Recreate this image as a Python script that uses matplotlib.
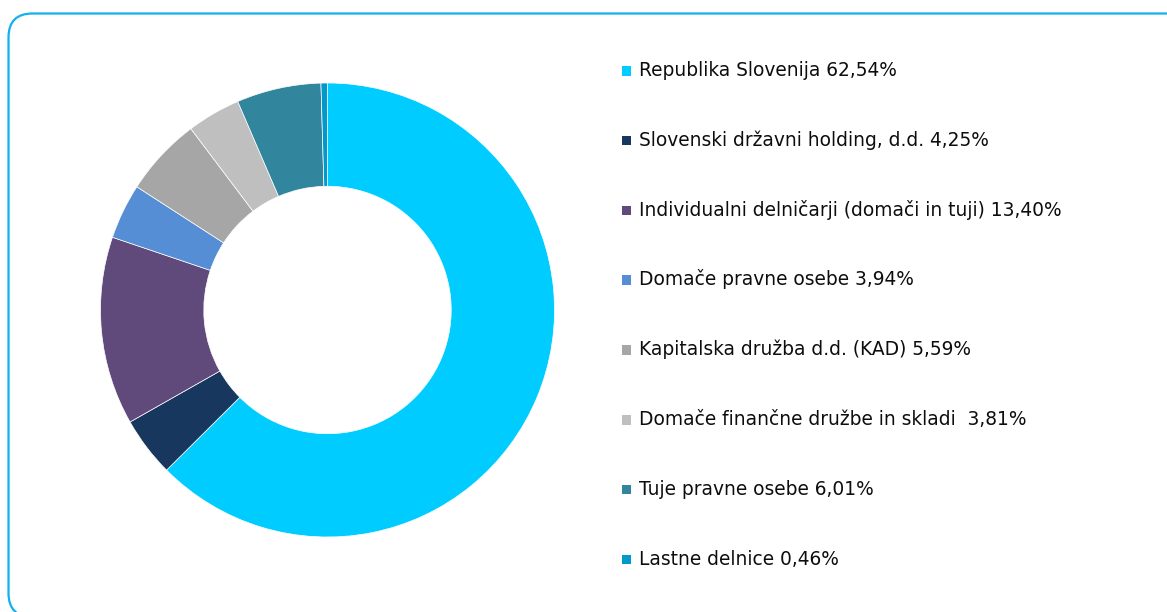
import matplotlib
matplotlib.use("Agg")
import matplotlib.pyplot as plt
from matplotlib.patches import FancyBboxPatch, Rectangle
from matplotlib.transforms import Affine2D

plt.rcParams["savefig.bbox"] = "standard"

categories = [
    "Republika Slovenija 62,54%",
    "Slovenski državni holding, d.d. 4,25%",
    "Individualni delničarji (domači in tuji) 13,40%",
    "Domače pravne osebe 3,94%",
    "Kapitalska družba d.d. (KAD) 5,59%",
    "Domače finančne družbe in skladi  3,81%",
    "Tuje pravne osebe 6,01%",
    "Lastne delnice 0,46%",
]
values = [62.54, 4.25, 13.40, 3.94, 5.59, 3.81, 6.01, 0.46]
colors = ["#00CCFF", "#17375E", "#604A7B", "#558ED5",
          "#A6A6A6", "#BFBFBF", "#31859C", "#0099CC"]

W, H = 1167, 612
fig = plt.figure(figsize=(W / 100, H / 100), dpi=100)
fig.patch.set_facecolor("white")

# pixel transform, origin bottom-left
pxb = Affine2D().scale(1 / W, 1 / H) + fig.transFigure


def ty(y_top):
    return H - y_top


# outer rounded border: right and bottom edges run off the canvas
left, top, right, bottom = 8.5, 13.5, 1200, 617
border = FancyBboxPatch((left, ty(bottom)), right - left, bottom - top,
                        boxstyle="round,pad=0,rounding_size=24",
                        transform=pxb, fill=False,
                        edgecolor="#12B0EE", linewidth=1.6)
border.set_clip_box(fig.bbox)
border.set_clip_on(True)
fig.add_artist(border)

# donut
cx, cy, r = 327.5, 310, 227
ax = fig.add_axes([(cx - r) / W, (H - cy - r) / H, 2 * r / W, 2 * r / H])
ax.pie(values, colors=colors, startangle=90, counterclock=False,
       wedgeprops=dict(width=0.455, edgecolor="white", linewidth=0.5))
ax.set_xlim(-1, 1)
ax.set_ylim(-1, 1)
ax.set_aspect("equal")
ax.axis("off")

# legend
y0, pitch = 76, 69.8
for i, (lab, col) in enumerate(zip(categories, colors)):
    yb = y0 + i * pitch
    fig.add_artist(Rectangle((621.5, ty(yb - 0.5)), 9.5, 9.5, transform=pxb,
                             facecolor=col, edgecolor="none"))
    fig.text(639 / W, ty(yb) / H, lab, fontsize=13.4, family="DejaVu Sans",
             color="#0D0D0D", va="baseline", ha="left")

fig.savefig("out.png", dpi=100, facecolor="white", bbox_inches=None)
